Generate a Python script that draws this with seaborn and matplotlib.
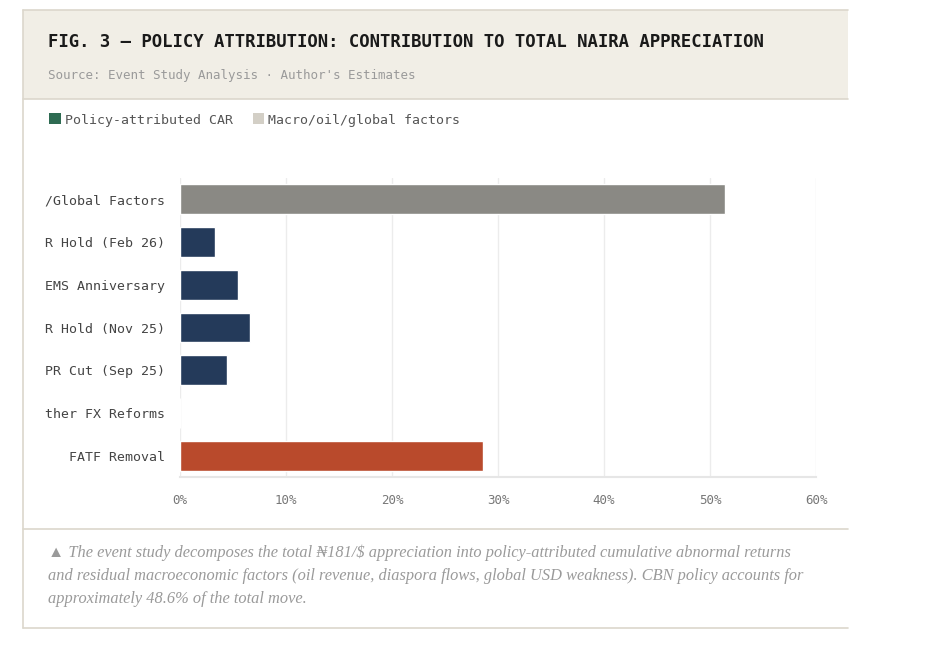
import matplotlib
matplotlib.use('Agg')
import matplotlib.pyplot as plt
import seaborn as sns
import pandas as pd
from matplotlib.patches import Rectangle, Patch
from matplotlib.lines import Line2D
from matplotlib.ticker import PercentFormatter

# data (share of total appreciation, %)
labels = ['/Global Factors', 'R Hold (Feb 26)', 'EMS Anniversary', 'R Hold (Nov 25)',
          'PR Cut (Sep 25)', 'ther FX Reforms', 'FATF Removal']
values = [51.4, 3.3, 5.5, 6.6, 4.4, 0.0, 28.6]
bar_colors = ['#8a8984', '#243a5a', '#243a5a', '#243a5a', '#243a5a', '#243a5a', '#b94a2c']
legend_labels = ['Policy-attributed CAR', 'Macro/oil/global factors']
legend_colors = ['#2e6b52', '#d3cfc6']
x_ticks = [0, 10, 20, 30, 40, 50, 60]

df = pd.DataFrame({'event': labels, 'share': values})

sns.set_theme(style='white')
plt.rcParams['font.family'] = ['DejaVu Sans Mono']

W, H = 936, 648
fig = plt.figure(figsize=(W / 100, H / 100), dpi=100)
fig.patch.set_facecolor('white')


def fx(px):
    return px / W


def fy(py):
    return 1 - py / H


line_col = '#dcd7cc'
# header band
fig.patches.append(Rectangle((fx(23), fy(99)), fx(848) - fx(23), fy(10) - fy(99),
                             transform=fig.transFigure, facecolor='#f1eee6',
                             edgecolor='none', zorder=0))
for yy in [10, 99, 529, 628]:
    fig.lines.append(Line2D([fx(23), fx(848)], [fy(yy), fy(yy)], transform=fig.transFigure,
                            color=line_col, lw=1.2))
fig.lines.append(Line2D([fx(23), fx(23)], [fy(10), fy(628)], transform=fig.transFigure,
                        color=line_col, lw=1.2))

fig.text(fx(48), fy(42), 'FIG. 3 — POLICY ATTRIBUTION: CONTRIBUTION TO TOTAL NAIRA APPRECIATION',
         fontsize=12.4, fontweight='bold', color='#1a1a1a', va='center', ha='left')
fig.text(fx(48), fy(75), "Source: Event Study Analysis · Author's Estimates",
         fontsize=9, color='#9a9a9a', va='center', ha='left')

# legend
handles = [Patch(facecolor=c, edgecolor='none', label=l) for c, l in zip(legend_colors, legend_labels)]
fig.legend(handles=handles, loc='center left', bbox_to_anchor=(fx(37), fy(120)), ncol=2,
           frameon=False, fontsize=9.5, handlelength=0.9, handleheight=0.9,
           handletextpad=0.3, columnspacing=1.5, labelcolor='#555555')

ax = fig.add_axes([fx(180), fy(477), fx(816) - fx(180), fy(178) - fy(477)])
sns.barplot(data=df, y='event', x='share', hue='event', palette=dict(zip(labels, bar_colors)),
            orient='h', width=0.7, legend=False, ax=ax, saturation=1)

ax.set_xlim(0, 60)
ax.set_ylim(6.5, -0.5)
ax.set_xticks(x_ticks)
ax.xaxis.set_major_formatter(PercentFormatter(decimals=0))
ax.set_xlabel('')
ax.set_ylabel('')
ax.grid(axis='x', color='#ececec', lw=1)
ax.set_axisbelow(True)
for s in ['top', 'right', 'left']:
    ax.spines[s].set_visible(False)
ax.spines['bottom'].set_color('#e6e6e6')
ax.spines['bottom'].set_linewidth(1.5)
ax.tick_params(axis='x', labelsize=9, colors='#777777', length=0, pad=12)
ax.tick_params(axis='y', labelsize=9.5, colors='#444444', length=0, pad=11)

caption = ("▲ The event study decomposes the total ₦181/$ appreciation into policy-attributed cumulative abnormal returns\n"
           "and residual macroeconomic factors (oil revenue, diaspora flows, global USD weakness). CBN policy accounts for\n"
           "approximately 48.6% of the total move.")
fig.text(fx(48), fy(576), caption, fontsize=11.8, style='italic', color='#9a9a9a',
         family=['Liberation Serif', 'DejaVu Serif'], va='center', ha='left', linespacing=1.6)

fig.savefig('out.png', dpi=100, facecolor='white')
